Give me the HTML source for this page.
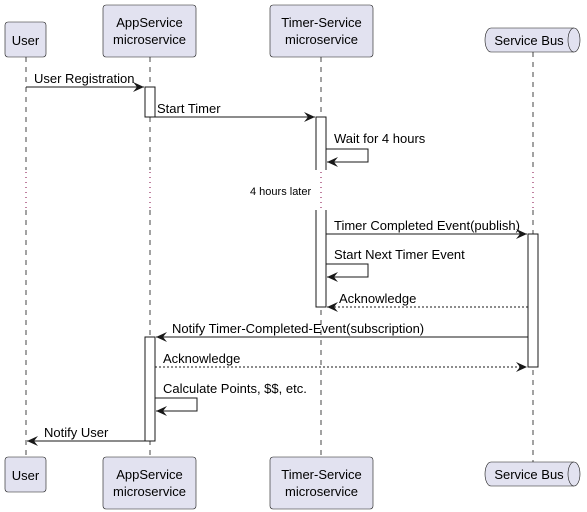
<!DOCTYPE html>
<html><head><style>body{margin:0;background:#fff}svg{display:block}text{font-family:"Liberation Sans",sans-serif;font-size:13px;fill:#000}</style></head><body>
<svg width="587" height="512" viewBox="0 0 587 512" xmlns="http://www.w3.org/2000/svg">
<defs>
<marker id="a" markerWidth="12" markerHeight="10" refX="11" refY="5" orient="auto" markerUnits="userSpaceOnUse"><path d="M0,0 L11,5 L0,10 L4,5 Z" fill="#181818"/></marker>
</defs>
<g stroke="#181818" stroke-width="0.8" stroke-dasharray="5,5" fill="none">
<line x1="26" y1="57" x2="26" y2="170"/><line x1="26" y1="210" x2="26" y2="457"/>
<line x1="150" y1="57" x2="150" y2="170"/><line x1="150" y1="210" x2="150" y2="457"/>
<line x1="321" y1="57" x2="321" y2="170"/><line x1="321" y1="210" x2="321" y2="457"/>
<line x1="533" y1="52" x2="533" y2="170"/><line x1="533" y1="210" x2="533" y2="462"/>
</g>
<g stroke="#800040" stroke-width="1" stroke-dasharray="1,4">
<line x1="26" y1="172" x2="26" y2="208"/><line x1="150" y1="172" x2="150" y2="208"/><line x1="321" y1="172" x2="321" y2="208"/><line x1="533" y1="172" x2="533" y2="208"/>
</g>
<text x="250" y="195" style="font-size:11px">4 hours later</text>
<g fill="#E2E2F0" stroke="#181818" stroke-width="0.6">
<rect x="5" y="22" width="41" height="35" rx="3"/><rect x="5" y="457" width="41" height="35" rx="3"/>
<rect x="103" y="5" width="93" height="52" rx="3"/><rect x="103" y="457" width="93" height="52" rx="3"/>
<rect x="270" y="5" width="103" height="52" rx="3"/><rect x="270" y="457" width="103" height="52" rx="3"/>
<path d="M491,28 H574 A6,12 0 0 1 574,52 H491 A6,12 0 0 1 491,28 Z"/><path d="M574,28 A6,12 0 0 0 574,52"/>
<path d="M491,462 H574 A6,12 0 0 1 574,486 H491 A6,12 0 0 1 491,462 Z"/><path d="M574,462 A6,12 0 0 0 574,486"/>
</g>
<g text-anchor="middle">
<text x="25.5" y="45">User</text><text x="25.5" y="480">User</text>
<text x="149.5" y="27">AppService</text><text x="149.5" y="44">microservice</text>
<text x="149.5" y="479">AppService</text><text x="149.5" y="496">microservice</text>
<text x="321.5" y="27">Timer-Service</text><text x="321.5" y="44">microservice</text>
<text x="321.5" y="479">Timer-Service</text><text x="321.5" y="496">microservice</text>
<text x="529" y="45">Service Bus</text><text x="529" y="479">Service Bus</text>
</g>
<g fill="#fff" stroke="#181818" stroke-width="1">
<rect x="145" y="87" width="10" height="30"/>
<rect x="316" y="117" width="10" height="53" stroke="none"/>
<path d="M316,170 V117 H326 V170" fill="none"/>
<rect x="316" y="210" width="10" height="97" stroke="none"/>
<path d="M316,210 V307 H326 V210" fill="none"/>
<rect x="528" y="234" width="10" height="133"/>
<rect x="145" y="337" width="10" height="104"/>
</g>
<g stroke="#181818" stroke-width="1" fill="none" marker-end="url(#a)">
<line x1="26" y1="87" x2="144" y2="87"/>
<line x1="155" y1="117" x2="315" y2="117"/>
<path d="M326,149 H368 V162 H327"/>
<line x1="326" y1="234" x2="527" y2="234"/>
<path d="M326,264 H368 V277 H327"/>
<line x1="528" y1="307" x2="327" y2="307" stroke-dasharray="2,2"/>
<line x1="528" y1="337" x2="156" y2="337"/>
<line x1="155" y1="367" x2="527" y2="367" stroke-dasharray="2,2"/>
<path d="M155,398 H197 V411 H156"/>
<line x1="145" y1="441" x2="27" y2="441"/>
</g>
<text x="34" y="83">User Registration</text>
<text x="157" y="113">Start Timer</text>
<text x="334" y="143">Wait for 4 hours</text>
<text x="334" y="230">Timer Completed Event(publish)</text>
<text x="334" y="259">Start Next Timer Event</text>
<text x="339" y="303">Acknowledge</text>
<text x="172" y="333">Notify Timer-Completed-Event(subscription)</text>
<text x="163" y="363">Acknowledge</text>
<text x="163" y="393">Calculate Points, $$, etc.</text>
<text x="44" y="437">Notify User</text>
</svg>
</body></html>
